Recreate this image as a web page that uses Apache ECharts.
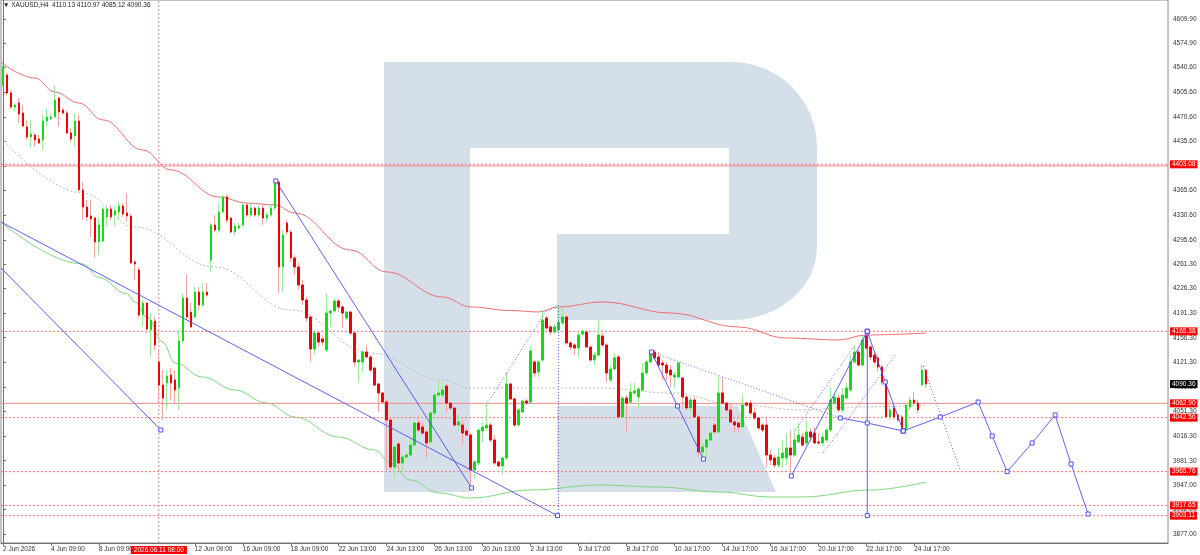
<!DOCTYPE html>
<html>
<head>
<meta charset="utf-8">
<script src="https://cdn.jsdelivr.net/npm/echarts@6/dist/echarts.min.js"></script>
<style>
html,body{margin:0;padding:0;background:#fff;}
#chart{width:1200px;height:555px;}
</style>
</head>
<body>
<div id="chart"></div>
<script>
// ---------- DATA ----------
const symbolTitle = '\u25BC XAUUSD,H4  4110.13 4110.97 4085.12 4090.36';
const slotCount = 292; // bar slots incl. empty future area

const open = [4516.0,4530.2,4504.6,4484.7,4490.4,4476.1,4456.2,4442.0,4444.8,4439.1,
4437.7,4464.7,4467.6,4470.4,4497.5,4480.4,4476.1,4447.7,4443.4,4464.7,
4366.6,4342.4,4329.6,4326.7,4292.6,4294.0,4328.1,4339.5,4331.0,4335.2,
4343.8,4333.8,4329.6,4264.1,4252.7,4188.7,4205.7,4167.3,4180.1,4121.8,
4089.0,4091.9,4103.3,4096.2,4084.8,4151.7,4212.9,4192.9,4185.8,4221.4,
4202.9,4221.4,4266.9,4316.7,4309.6,4335.2,4356.6,4326.7,4306.8,4312.5,
4316.7,4345.2,4331.0,4340.9,4331.0,4340.9,4326.7,4331.0,4340.9,4377.9,
4257.0,4319.6,4306.8,4269.8,4257.0,4231.4,4210.0,4185.8,4140.3,4163.0,
4154.5,4138.9,4191.5,4194.4,4208.6,4200.1,4184.4,4192.9,4163.0,4121.8,
4121.8,4136.0,4128.9,4113.2,4090.5,4077.7,4064.9,4039.2,3972.4,4005.1,
3978.0,3986.6,3989.4,4003.7,4035.0,4029.3,4022.2,4007.9,4049.2,4074.8,
4074.8,4087.6,4063.4,4056.3,4032.1,4032.1,4023.6,4017.9,3968.1,3978.0,
4023.6,4027.9,4032.1,4010.8,3979.5,3973.8,3985.2,4090.5,4069.1,4032.1,
4050.6,4066.3,4064.9,4121.8,4107.5,4124.6,4184.4,4171.6,4164.5,4167.3,
4177.3,4185.8,4148.8,4146.0,4141.7,4161.6,4164.5,4143.1,4124.6,4131.7,
4158.8,4146.0,4096.2,4111.8,4128.9,4043.5,4070.5,4064.9,4077.7,4071.9,
4081.9,4106.1,4121.8,4136.0,4128.9,4120.4,4117.5,4110.4,4100.4,4100.4,
4099.0,4071.9,4056.3,4067.7,4043.5,3993.7,4000.8,4010.8,4032.1,4022.2,
4077.7,4063.4,4053.5,4036.4,4035.0,4029.3,4063.4,4063.4,4049.2,4042.1,
4032.1,4032.1,3989.4,3985.2,3975.2,3985.2,3985.2,3999.4,3989.4,4007.9,
4015.0,4006.5,4022.2,4020.7,4007.9,4006.5,4010.8,4025.0,4063.4,4070.5,
4053.5,4070.5,4081.9,4121.8,4136.0,4117.5,4158.8,4143.1,4131.7,4127.5,
4114.7,4093.3,4043.5,4056.3,4046.4,4043.5,4025.0,4057.7,4067.7,4063.4,
4089.0,4110.13];

const close = [4541.6,4504.6,4484.7,4487.5,4474.7,4457.6,4442.0,4446.3,4437.7,4433.4,
4464.7,4470.4,4470.4,4494.6,4477.6,4476.1,4447.7,4439.1,4464.7,4366.6,
4342.4,4328.1,4325.3,4292.6,4316.7,4339.5,4339.5,4328.1,4336.7,4343.8,
4332.4,4329.6,4262.7,4261.2,4188.7,4205.7,4168.7,4181.5,4146.0,4089.0,
4070.5,4101.9,4091.9,4081.9,4151.7,4212.9,4185.8,4171.6,4221.4,4202.9,
4221.4,4217.1,4316.7,4309.6,4335.2,4356.6,4323.9,4306.8,4315.3,4315.3,
4345.2,4331.0,4340.9,4331.0,4340.9,4326.7,4331.0,4340.9,4377.9,4257.0,
4302.5,4306.8,4269.8,4257.0,4231.4,4210.0,4184.4,4140.3,4163.0,4150.2,
4150.2,4191.5,4194.4,4208.6,4200.1,4191.5,4192.9,4163.0,4121.8,4124.6,
4136.0,4128.9,4110.4,4089.0,4077.7,4064.9,4039.2,3972.4,4000.8,3978.0,
3986.6,3989.4,4003.7,4035.0,4025.0,4020.7,4006.5,4049.2,4074.8,4077.7,
4081.9,4063.4,4056.3,4032.1,4036.4,4020.7,4017.9,3968.1,3979.5,4025.0,
4029.3,4032.1,4010.8,3978.0,3973.8,3985.2,4090.5,4069.1,4032.1,4053.5,
4066.3,4063.4,4137.4,4106.1,4121.8,4181.5,4170.2,4164.5,4171.6,4178.7,
4185.8,4148.8,4143.1,4141.7,4160.2,4165.9,4143.1,4124.6,4131.7,4160.2,
4146.0,4106.1,4111.8,4127.5,4043.5,4070.5,4063.4,4079.1,4080.5,4083.4,
4106.1,4121.8,4136.0,4127.5,4117.5,4117.5,4106.1,4103.3,4103.3,4120.4,
4071.9,4056.3,4067.7,4043.5,3993.7,4000.8,4010.8,4020.7,4022.2,4077.7,
4063.4,4053.5,4036.4,4032.1,4029.3,4060.6,4060.6,4049.2,4042.1,4027.9,
4025.0,3989.4,3982.3,3975.2,3986.6,3992.3,3999.4,3989.4,4010.8,4017.9,
4003.7,4022.2,4015.0,4006.5,4006.5,4015.0,4025.0,4067.7,4071.9,4053.5,
4074.8,4084.8,4121.8,4136.0,4117.5,4153.1,4141.7,4128.9,4121.8,4114.7,
4093.3,4043.5,4053.5,4043.5,4039.2,4025.0,4060.6,4067.7,4063.4,4053.5,
4110.4,4090.36];

const low = [4513.1,4501.8,4481.8,4477.6,4461.9,4456.2,4437.7,4426.3,4427.8,4432.0,
4423.5,4457.6,4466.2,4469.0,4456.2,4473.3,4446.3,4434.9,4427.8,4365.1,
4323.9,4322.4,4299.7,4269.8,4274.1,4292.6,4313.9,4323.9,4313.9,4323.9,
4328.1,4321.0,4261.0,4238.5,4184.4,4171.6,4163.0,4128.9,4138.9,4063.4,
4039.2,4053.5,4067.7,4063.4,4053.5,4148.8,4181.5,4170.0,4184.4,4195.8,
4200.1,4214.3,4249.9,4306.8,4305.4,4333.8,4319.6,4305.4,4301.1,4309.6,
4313.9,4328.1,4328.1,4328.1,4328.1,4316.7,4321.0,4328.1,4338.1,4220.0,
4221.4,4302.5,4264.1,4245.6,4224.2,4202.9,4178.7,4121.8,4131.7,4143.1,
4146.0,4136.0,4171.6,4192.9,4192.9,4170.2,4181.5,4160.2,4114.7,4091.9,
4107.5,4127.5,4107.5,4088.0,4050.6,4063.4,3965.2,3968.1,3958.1,3968.1,
3965.2,3982.3,3986.6,4000.8,4022.2,4017.9,3985.2,4006.5,4046.4,4071.9,
4071.9,4049.2,4053.5,4029.3,4022.2,4003.7,4015.0,3946.7,3956.7,3975.2,
4007.9,4026.5,4007.9,3975.2,3972.4,3961.0,3982.3,4067.7,4029.3,4029.3,
4049.2,4060.6,4063.4,4100.4,4100.4,4121.8,4167.3,4160.2,4163.0,4163.0,
4174.4,4146.0,4138.9,4131.7,4128.9,4157.4,4141.7,4121.8,4117.5,4128.9,
4143.1,4093.3,4093.3,4110.4,4042.1,4042.1,4022.2,4063.4,4074.8,4056.3,
4079.1,4103.3,4120.4,4124.6,4114.7,4096.2,4096.2,4086.2,4084.8,4099.0,
4057.7,4053.5,4050.6,4042.1,3986.6,3983.7,3985.2,4009.4,4020.7,4019.3,
4060.6,4050.6,4035.0,4022.2,4020.7,4027.9,4057.7,4046.4,4039.2,4025.0,
4022.2,3972.4,3975.2,3970.9,3970.9,3970.9,3975.2,3959.6,3986.6,4006.5,
4000.8,4003.7,4007.9,4005.0,4003.7,4002.2,4007.9,4022.2,4060.6,4050.6,
4050.6,4067.7,4079.1,4119.0,4114.7,4116.1,4138.9,4124.6,4117.5,4107.5,
4089.0,4042.1,4039.2,4039.2,4036.4,4022.2,4022.2,4053.5,4060.6,4049.2,
4087.6,4085.12];

const high = [4544.4,4533.1,4508.9,4490.4,4497.5,4487.5,4466.2,4466.2,4447.7,4444.8,
4473.3,4483.3,4476.1,4516.0,4498.9,4483.3,4480.4,4454.8,4474.7,4473.3,
4377.9,4352.3,4352.3,4328.1,4328.1,4342.4,4345.2,4345.2,4342.4,4349.5,
4348.1,4362.3,4332.4,4266.9,4257.0,4210.0,4207.2,4191.5,4185.8,4138.9,
4110.4,4110.4,4113.2,4110.4,4167.3,4220.0,4245.6,4205.7,4228.5,4228.5,
4234.2,4234.2,4319.6,4331.0,4348.1,4359.4,4359.4,4328.1,4321.0,4319.6,
4348.1,4349.5,4348.1,4342.4,4345.2,4348.1,4335.2,4345.2,4380.8,4380.0,
4309.6,4323.9,4309.6,4274.1,4264.1,4238.5,4214.3,4188.7,4164.5,4165.9,
4160.2,4220.0,4195.8,4211.4,4211.4,4202.9,4194.4,4194.4,4164.5,4125.5,
4138.9,4146.0,4131.7,4114.7,4091.9,4079.0,4067.7,4042.1,4003.7,4008.0,
3989.4,3993.7,4015.0,4036.4,4046.4,4036.4,4023.6,4050.6,4077.7,4096.2,
4093.3,4090.5,4064.9,4057.7,4046.4,4039.2,4027.9,4020.7,3982.3,4027.9,
4035.0,4063.4,4035.0,4017.9,3980.9,3986.6,4107.5,4091.9,4071.9,4056.3,
4067.7,4069.1,4144.5,4124.6,4124.6,4195.8,4187.2,4174.4,4175.8,4202.9,
4198.6,4188.7,4151.7,4148.8,4164.5,4167.3,4167.3,4144.5,4136.0,4181.5,
4163.0,4148.8,4117.5,4134.6,4131.7,4071.9,4074.8,4091.9,4091.9,4086.2,
4120.4,4124.6,4138.9,4138.9,4136.0,4124.6,4121.8,4117.5,4107.5,4121.8,
4100.4,4074.8,4071.9,4071.9,4046.4,4006.5,4013.6,4025.0,4035.0,4101.9,
4100.4,4064.9,4063.4,4039.2,4036.4,4074.8,4064.9,4067.7,4057.7,4043.5,
4035.0,4043.5,3996.5,3989.4,3999.4,4010.8,4020.7,4025.0,4025.0,4035.0,
4020.7,4039.2,4027.9,4029.3,4020.7,4020.7,4029.3,4084.8,4077.7,4074.8,
4084.8,4091.9,4131.7,4143.1,4138.9,4158.8,4165.4,4146.0,4136.0,4131.7,
4117.5,4096.2,4067.7,4060.6,4049.2,4046.4,4063.4,4071.9,4079.1,4067.7,
4117.5,4110.97];

// moving averages: [bar index, price]
const maRed = [[-0.5,4548.2],[8,4525.9],[13,4506.0],[19,4490.4],[25,4466.2],[35,4423.5],[42,4395.0],[54,4356.6],[61,4348.0],[68,4345.2],[73,4333.8],[87,4281.2],[96,4249.9],[110,4214.3],[117,4200.1],[127,4195.0],[134,4193.0],[139,4200.1],[150,4207.2],[167,4191.5],[184,4171.6],[196,4155.9],[209,4153.1],[216,4160.2],[231,4163.0]];
const maGreen = [[-0.5,4321.0],[20,4261.2],[24,4242.0],[31,4219.0],[33,4207.0],[36,4186.0],[40,4150.0],[43,4120.4],[50,4100.4],[58,4081.9],[66,4063.4],[73,4043.5],[84,4015.0],[93,3996.5],[97,3978.0],[102,3953.8],[109,3935.4],[117,3928.2],[132,3939.6],[149,3946.7],[164,3943.9],[179,3936.8],[192,3929.7],[200,3929.7],[217,3939.6],[231,3951.0]];
const maGray = [[-0.5,4440.6],[20,4362.3],[33,4313.9],[53,4257.0],[72,4195.8],[92,4134.6],[110,4096.2],[117,4084.8],[139,4084.8],[150,4084.8],[167,4077.7],[184,4060.6],[200,4053.5],[213,4057.7],[231,4060.6]];

// analysis lines: [bar index, price]
const trendSolid = [
  [[-0.5,4321.0],[138.75,3903.1]],
  [[-0.5,4255.5],[39.5,4025.0]],
  [[68.25,4379.4],[117.25,3942.5]],
  [[162.25,4136.0],[168.75,4059.2],[175.25,3983.7]],
  [[209.5,4042.1],[216.25,4035.0],[225.25,4023.6]],
  [[197.25,3959.6],[216.25,4165.4]],
  [[216.25,4165.4],[216.25,3903.1]],
  [[216.25,4165.4],[220.75,4093.3],[225.25,4023.6]],
  [[225.25,4023.6],[234.5,4043.5],[244,4064.8],[247.5,4016.5],[251.25,3965.8],[257.5,4006.5],[263.25,4046.4],[267.25,3976.6],[271.5,3905.5]]
];
const trendDotted = [
  [[121.25,4063.4],[135.75,4193.0],[139,4202.9]],
  [[139,4202.9],[139,3903.1]],
  [[162.25,4136.0],[209.5,4042.1]],
  [[230.25,4116.1],[239.5,3968.1]],
  [[198.25,4025.0],[213.25,4146.0]],
  [[205.25,3992.3],[223.25,4131.7]]
];

// price levels
const levelDotted = [4403.08, 4165.38, 4042.56, 3965.76, 3917.65, 3903.11];
const levelSolid = [4062.90];
const levelSolidNoLabel = [4400.7];
const lastPrice = 4090.36;
const cursorBar = 39;
const cursorText = '2026.06.11 08:00';

// axis ticks
const yMin = 3864.2, yMax = 4636.9;
const yTicks = [4609.90,4574.90,4540.60,4505.60,4470.60,4435.60,4400.60,4365.60,4330.60,4295.60,4261.30,4226.30,4191.30,4156.30,4121.30,4086.30,4051.30,4016.30,3981.30,3947.00,3912.00,3877.00];
const xTickText = ['2 Jun 2026','4 Jun 09:00','8 Jun 09:00','10 Jun 09:00','12 Jun 09:00','16 Jun 09:00','18 Jun 09:00','22 Jun 13:00','24 Jun 13:00','26 Jun 13:00','30 Jun 13:00','2 Jul 13:00','6 Jul 17:00','8 Jul 17:00','10 Jul 17:00','14 Jul 17:00','16 Jul 17:00','20 Jul 17:00','22 Jul 17:00','24 Jul 17:00'];
const barsPerLabel = 12;
const hiddenLabelSlot = 3; // covered by the cursor time box

// ---------- CHART ----------
const FONT = 'Liberation Sans';
const xCats = Array.from({length: slotCount}, (_, i) => String(i));
const wickData = open.map((o, i) => [o, close[i], low[i], high[i]]);
const bodyData = open.map((o, i) => [o, close[i], Math.min(o, close[i]), Math.max(o, close[i])]);
const xLeft = -0.5, xRight = slotCount - 0.5;

function showX(idx) {
  if (idx % barsPerLabel !== 0) return false;
  const k = idx / barsPerLabel;
  return k < xTickText.length && k !== hiddenLabelSlot;
}

const BLUE = '#4f4ff2';
const LOGO = '#d5dfea';
const LEVEL_RED = '#f47272';
const LEVEL_SOLID = '#f28a8a';
const DOTS = [2, 2];
const FINE_DOTS = [1, 2];
const HIDDEN_LINE = {color: 'rgba(255,255,255,0)', width: 1, type: 'solid'};

const boxLabel = (txt, bg) => ({show: true, position: 'end', distance: 2, formatter: txt, backgroundColor: bg, color: '#fff', fontSize: 6.5, fontFamily: FONT, padding: [1, 2, 0, 2]});

// markLine used only for the value boxes (lines transparent); visible lines are line series
const labelMarks = [];
levelDotted.concat(levelSolid).forEach(v => labelMarks.push({yAxis: v, lineStyle: HIDDEN_LINE, label: boxLabel(v.toFixed(2), '#ff0000')}));
labelMarks.push({yAxis: lastPrice, lineStyle: HIDDEN_LINE, label: boxLabel(lastPrice.toFixed(2), '#000000')});
labelMarks.push({
  xAxis: cursorBar, lineStyle: HIDDEN_LINE,
  label: {show: true, position: 'start', distance: 3, formatter: cursorText, backgroundColor: '#ff0000', color: '#fff', fontSize: 6.5, fontFamily: FONT, padding: [1, 3, 0, 3]}
});

function plainLine(pts, color, type, z) {
  return {type: 'line', xAxisIndex: 1, yAxisIndex: 0, z: z, data: pts, symbol: 'none', showSymbol: false,
    lineStyle: {color: color, width: 1, type: type}, silent: true, animation: false};
}

function trendLine(pts, dotted, withSymbols) {
  return {
    type: 'line', xAxisIndex: 1, yAxisIndex: 0, z: 4,
    data: pts.map(p => (withSymbols && p[0] >= 0) ? {value: p} : {value: p, symbol: 'none'}),
    symbol: 'rect', symbolSize: 4, showSymbol: withSymbols,
    itemStyle: {color: '#fff', borderColor: BLUE, borderWidth: 1},
    lineStyle: {color: BLUE, width: 1, type: dotted ? FINE_DOTS : 'solid', opacity: dotted ? 0.85 : 0.9},
    silent: true, animation: false, clip: false
  };
}

const series = [
  {type: 'line', xAxisIndex: 1, data: maRed, smooth: 0.4, smoothMonotone: 'x', showSymbol: false, symbol: 'none', lineStyle: {color: '#ef6e6e', width: 1}, z: 1, silent: true},
  {type: 'line', xAxisIndex: 1, data: maGreen, smooth: 0.4, smoothMonotone: 'x', showSymbol: false, symbol: 'none', lineStyle: {color: '#7cd87c', width: 1}, z: 1, silent: true},
  {type: 'line', xAxisIndex: 1, data: maGray, smooth: 0.4, smoothMonotone: 'x', showSymbol: false, symbol: 'none', lineStyle: {color: '#b9b9b9', width: 1, type: DOTS}, z: 1, silent: true},
  {
    type: 'candlestick', xAxisIndex: 0, data: wickData, barWidth: 1, z: 2, silent: true,
    itemStyle: {color: '#9ee89e', color0: '#f5a3a3', borderColor: '#9ee89e', borderColor0: '#f5a3a3', borderWidth: 1}
  },
  {
    type: 'candlestick', xAxisIndex: 0, data: bodyData, barWidth: 2, z: 3, silent: true,
    itemStyle: {color: '#14dc14', color0: '#f00000', borderColor: '#14dc14', borderColor0: '#f00000', borderWidth: 1},
    markLine: {silent: true, symbol: ['none', 'none'], animation: false, z: 10, data: labelMarks}
  }
];
levelSolidNoLabel.concat(levelSolid).forEach(v => series.push(plainLine([[xLeft, v], [xRight, v]], LEVEL_SOLID, 'solid', 1)));
levelDotted.forEach(v => series.push(plainLine([[xLeft, v], [xRight, v]], LEVEL_RED, DOTS, 1)));
series.push(plainLine([[cursorBar, yMin], [cursorBar, yMax]], LEVEL_SOLID, DOTS, 1));
trendSolid.forEach(p => series.push(trendLine(p, false, true)));
trendDotted.forEach(p => series.push(trendLine(p, true, false)));

const logoBody = [[384,62],[732,62],[743.1,62.7],[754,64.9],[764.5,68.5],[774.5,73.4],[783.7,79.6],[792.1,86.9],[799.4,95.3],[805.6,104.5],[810.5,114.5],[814.1,125],[816.3,135.9],[817,147],
  [817,247],[816.3,256.5],[814.1,265.9],[810.5,274.9],[805.6,283.5],[799.4,291.4],[792.1,298.6],[783.7,304.9],[774.5,310.2],[764.5,314.4],[754,317.5],[743.1,319.4],[732,320],
  [557,320],[557,234],[729,234],[729,148],[470,148],[470,492],[384,492]];
const logoLeg = [[557,406],[738,406],[776,492],[557,492]];

const option = {
  animation: false,
  backgroundColor: '#ffffff',
  textStyle: {fontFamily: FONT},
  grid: {left: 0, right: 32, top: 0, bottom: 12, show: true, borderColor: '#8a8a8a', borderWidth: 1, backgroundColor: 'transparent'},
  xAxis: [
    {
      type: 'category', data: xCats, boundaryGap: true, position: 'bottom',
      axisLine: {show: true, lineStyle: {color: '#707070'}},
      axisTick: {show: true, alignWithLabel: true, interval: showX, length: 3, lineStyle: {color: '#707070'}},
      axisLabel: {show: true, interval: showX, align: 'left', margin: 3, fontSize: 6.5, color: '#333', fontFamily: FONT,
        formatter: (v, idx) => xTickText[Math.round(idx / barsPerLabel)] || ''},
      splitLine: {show: false}
    },
    {type: 'value', min: xLeft, max: xRight, show: false}
  ],
  yAxis: {
    type: 'value', position: 'right', min: yMin, max: yMax,
    splitLine: {show: false},
    axisLine: {show: true, lineStyle: {color: '#707070'}},
    axisTick: {show: true, customValues: yTicks, length: 3, lineStyle: {color: '#707070'}},
    axisLabel: {show: true, customValues: yTicks, formatter: v => Number(v).toFixed(2), margin: 5, fontSize: 6.5, color: '#333', fontFamily: FONT}
  },
  graphic: [
    {type: 'polygon', z: -10, silent: true, shape: {points: logoBody}, style: {fill: LOGO}},
    {type: 'polygon', z: -10, silent: true, shape: {points: logoLeg}, style: {fill: LOGO}},
    {type: 'text', z: 10, left: 3, top: 2, silent: true, style: {text: symbolTitle, fill: '#222', font: '6.5px "Liberation Sans"'}}
  ],
  series: series
};

const chart = echarts.init(document.getElementById('chart'), null, {renderer: 'canvas'});
chart.setOption(option);
</script>
</body>
</html>
